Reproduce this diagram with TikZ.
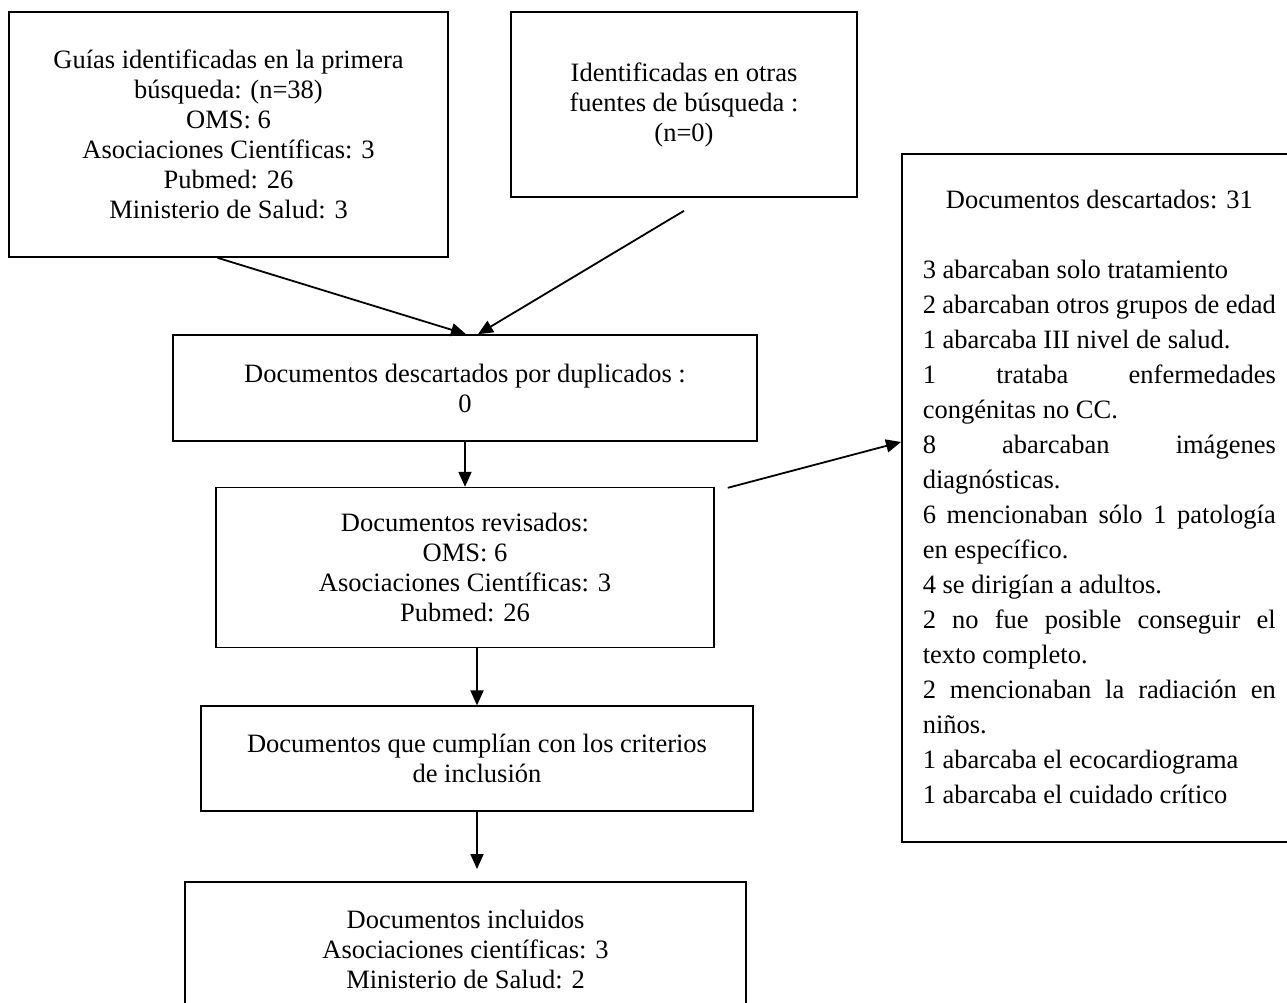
\documentclass[tikz,border=0pt]{standalone}
\usepackage{fontspec}
\setmainfont{Liberation Serif}
\usetikzlibrary{positioning, arrows.meta}
\newcommand{\fullline}[1]{\makebox[\linewidth][s]{#1}}

\begin{document}
\begin{tikzpicture}[x=1pt, y=-1pt, node distance=45pt,
    box/.style={draw, line width=1.6pt, inner sep=0pt, align=center, font=\fontsize{26.5}{30}\selectfont},
    flow/.style={line width=1.8pt, -{Triangle[length=15pt, width=13pt]}}]
  \useasboundingbox (0,0) rectangle (1287,1002);
  \node[box, minimum width=439pt, minimum height=245pt] (guias) at (228.5,134.5)
    {Guías identificadas en la primera\\búsqueda: (n=38)\\OMS: 6\\Asociaciones Científicas: 3\\Pubmed: 26\\Ministerio de Salud: 3};
  \node[box, minimum width=346pt, minimum height=185pt] (otras) at (684,104.5)
    {Identificadas en otras\\fuentes de búsqueda :\\(n=0)};
  \node[box, minimum width=584pt, minimum height=106pt] (dup) at (465,388)
    {Documentos descartados por duplicados :\\0};
  \node[box, minimum width=498pt, minimum height=160pt, below=of dup] (rev)
    {Documentos revisados:\\OMS: 6\\Asociaciones Científicas: 3\\Pubmed: 26};
  \node[box, minimum width=552pt, minimum height=105pt, below=57pt of rev, xshift=12pt] (crit)
    {Documentos que cumplían con los criterios\\de inclusión};
  \node[box, minimum width=561pt, minimum height=136pt, below=69pt of crit, xshift=-11.5pt] (incl)
    {Documentos incluidos\\Asociaciones científicas: 3\\Ministerio de Salud: 2};
  \node[box, anchor=north west, minimum width=395pt, minimum height=688pt, align=left,
        font=\fontsize{26.5}{35}\selectfont] (descart) at (901,153)
    {\parbox[c][688pt][t]{353pt}{\vspace*{36pt}%
      \makebox[\linewidth]{Documentos descartados: 31}\\[35pt]
      3 abarcaban solo tratamiento\\
      \fullline{2 abarcaban otros grupos de edad}\\
      1 abarcaba III nivel de salud.\\
      \fullline{1 trataba enfermedades}\\
      congénitas no CC.\\
      \fullline{8 abarcaban imágenes}\\
      diagnósticas.\\
      \fullline{6 mencionaban sólo 1 patología}\\
      en específico.\\
      4 se dirigían a adultos.\\
      \fullline{2 no fue posible conseguir el}\\
      texto completo.\\
      \fullline{2 mencionaban la radiación en}\\
      niños.\\
      1 abarcaba el ecocardiograma\\
      1 abarcaba el cuidado crítico}};

  % free ends of the connectors
  \path (rev.north east) ++(13,1) coordinate (fromrev);
  \path (descart.north west) ++(0,289) coordinate (todescart);
  \path (crit.south |- incl.north) ++(0,-12) coordinate (toincl);

  \draw[flow] ([xshift=-11pt]guias.south) -- ([xshift=1pt]dup.north);
  \draw[flow] ([yshift=-13pt]otras.south) -- ([xshift=13pt]dup.north);
  \draw[flow] (dup) -- (rev);
  \draw[flow] (rev.south -| crit.north) -- (crit.north);
  \draw[flow] (crit.south) -- (toincl);
  \draw[flow] (fromrev) -- (todescart);
\end{tikzpicture}
\end{document}
